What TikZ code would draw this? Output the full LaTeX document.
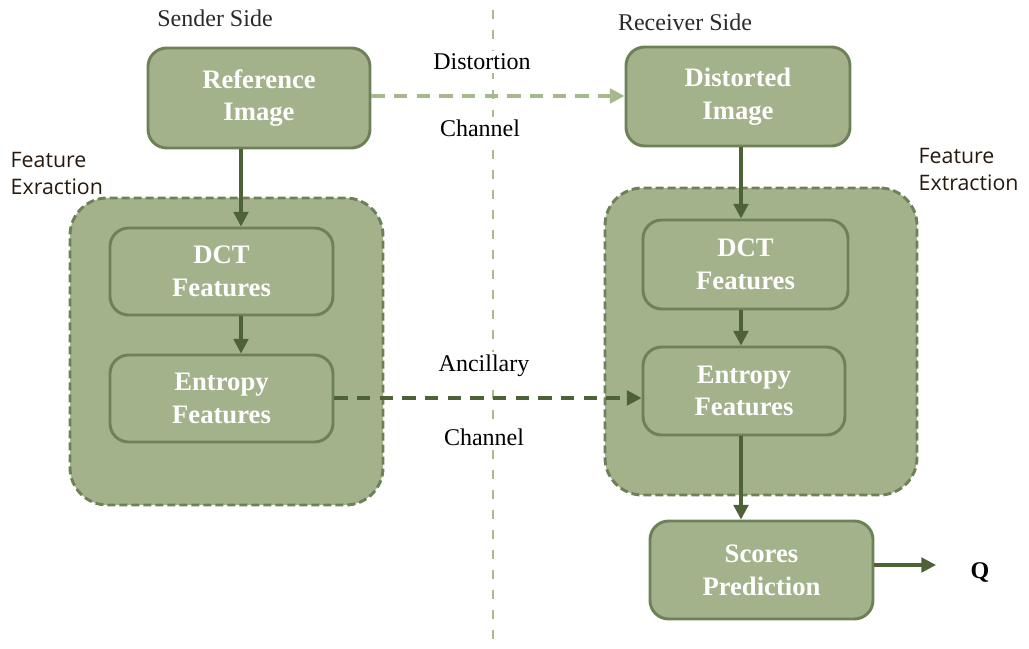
\documentclass[tikz,border=0pt]{standalone}
\usepackage{fontspec}
\setmainfont{Liberation Serif}
\newfontfamily\labsans{Open Sans}
\usetikzlibrary{arrows.meta,calc}
\definecolor{sage}{HTML}{A3B28B}
\definecolor{sageborder}{HTML}{6E8058}
\definecolor{darkarr}{HTML}{4E6238}
\definecolor{lightarr}{HTML}{A5B98C}
\definecolor{divcol}{HTML}{A8BA8E}
\definecolor{sidecol}{HTML}{2A2A2A}
\begin{document}
\begin{tikzpicture}[x=0.75pt,y=-0.75pt,
  procbox/.style={draw=sageborder,line width=2.2pt,fill=sage,rounded corners=14pt,
    align=center,text=white,font=\fontsize{20}{24.5}\selectfont\bfseries,inner sep=0pt},
  container/.style={draw=sageborder,line width=2.2pt,fill=sage,rounded corners=28pt,
    dash pattern=on 6pt off 3pt,inner sep=0pt},
  arr/.style={draw=darkarr,line width=2.4pt,-{Triangle[length=11pt,width=11pt]}},
  darrdark/.style={draw=darkarr,line width=2.4pt,dash pattern=on 10pt off 7pt,-{Triangle[length=11pt,width=11pt]}},
  darrlight/.style={draw=lightarr,line width=2.4pt,dash pattern=on 10pt off 7pt,-{Triangle[length=11pt,width=11pt]}},
  chlabel/.style={font=\fontsize{18}{21}\selectfont,fill=white,inner sep=2pt,text=black},
  sidelabel/.style={font=\fontsize{18}{21}\selectfont,text=sidecol},
  featlabel/.style={font=\labsans\fontsize{16}{20}\selectfont,text=black!80!brown,align=left,anchor=north west}
]
\useasboundingbox (0,0) rectangle (1029,649);
% divider
\draw[divcol,line width=2pt,dash pattern=on 7pt off 8pt] (493,10) -- (493,649);
% containers
\node[container,minimum width=234.75pt,minimum height=230.25pt] (contL) at (226.5,351.5) {};
\node[container,minimum width=234pt,minimum height=230.25pt] (contR) at (761,341.5) {};
% boxes
\node[procbox,minimum width=166.5pt,minimum height=75pt] (refimg) at (259,98) {Reference\\Image};
\node[procbox,minimum width=168pt,minimum height=74.25pt] (distimg) at (738,96.5) {Distorted\\Image};
\node[procbox,minimum width=167.25pt,minimum height=65.25pt] (dctL) at (221.5,271.5) {DCT\\Features};
\node[procbox,minimum width=167.25pt,minimum height=65.25pt] (entL) at (221.5,398.5) {Entropy\\Features};
\node[procbox,minimum width=153.75pt,minimum height=66.75pt] (dctR) at (745.5,264.5) {DCT\\Features};
\node[procbox,minimum width=151.5pt,minimum height=66pt] (entR) at (744,391) {Entropy\\Features};
\node[procbox,minimum width=167.25pt,minimum height=73.5pt] (score) at (761.5,570) {Scores\\Prediction};
% labels
\node[sidelabel] (sender) at (215,18) {Sender Side};
\node[sidelabel] (receiver) at (685,22) {Receiver Side};
\node[featlabel] (featL) at (6,148) {Feature\\Exraction};
\node[featlabel] (featR) at (914,144) {Feature\\Extraction};
\node[chlabel] (dist) at (482,62) {Distortion};
\node[chlabel] (ch1) at (480,128) {Channel};
\node[chlabel] (anc) at (484,366) {Ancillary};
\node[chlabel] (ch2) at (484,437) {Channel};
\node[font=\fontsize{18}{21}\selectfont\bfseries] (q) at (980,572) {Q};
\coordinate (qin) at (936,565);
\coordinate (yd) at (0,96);
\coordinate (ya) at (0,398);
% connectors
\coordinate (xL) at (241,0);
\coordinate (xR) at (741,0);
\draw[darrlight] (refimg.east |- yd) -- (distimg.west |- yd);
\draw[arr] (refimg.south -| xL) -- (dctL.north -| xL);
\draw[arr] (dctL.south -| xL) -- (entL.north -| xL);
\draw[arr] (distimg.south -| xR) -- (dctR.north -| xR);
\draw[arr] (dctR.south -| xR) -- (entR.north -| xR);
\draw[arr] (entR.south -| xR) -- (score.north -| xR);
\draw[darrdark] (entL.east |- ya) -- (entR.west |- ya);
\draw[arr] (score.east |- qin) -- (qin);
\end{tikzpicture}
\end{document}
